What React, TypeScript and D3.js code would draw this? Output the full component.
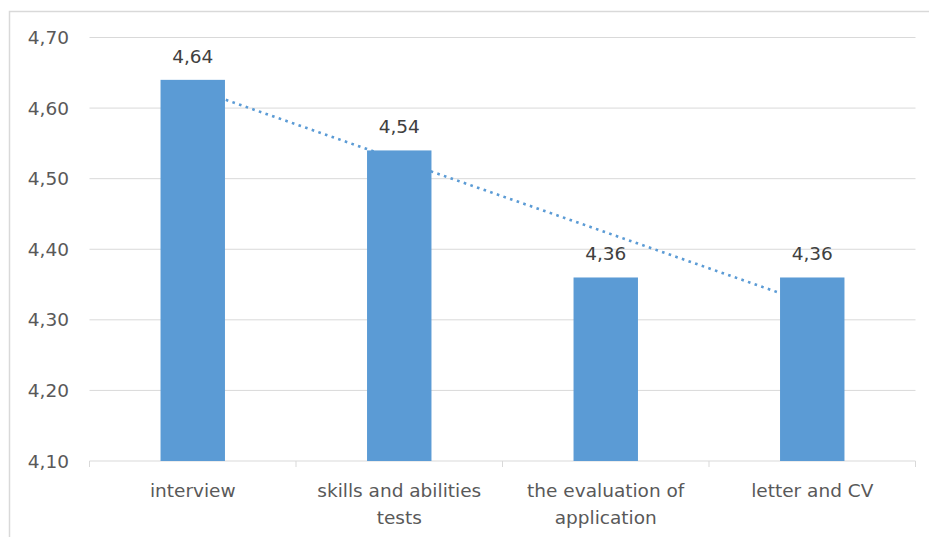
import React from "react";
import * as d3 from "d3";

const categories: string[][] = [
  ["interview"],
  ["skills and abilities", "tests"],
  ["the evaluation of", "application"],
  ["letter and CV"],
];
const values: number[] = [4.64, 4.54, 4.36, 4.36];
const yTicks: number[] = [4.1, 4.2, 4.3, 4.4, 4.5, 4.6, 4.7];

const W = 929;
const H = 537;
const margin = { left: 89.5, right: 13.5, top: 37.5, bottom: 76 };
const FONT = "'DejaVu Sans', sans-serif";
const BAR = "#5B9BD5";
const GRID = "#D9D9D9";

const fmt = (v: number) => v.toFixed(2).replace(".", ",");

export default function App() {
  const x0 = margin.left;
  const x1 = W - margin.right;
  const y0 = H - margin.bottom;
  const y1 = margin.top;

  const keys = categories.map((_, i) => String(i));
  const x = d3.scaleBand<string>().domain(keys).range([x0, x1]).paddingInner(0.688).paddingOuter(0.344);
  const step = x.step();
  const y = d3.scaleLinear().domain([4.1, 4.7]).range([y0, y1]);

  // Least-squares linear trend over the category index 1..n
  const n = values.length;
  const xs = values.map((_, i) => i + 1);
  const mx = d3.mean(xs)!;
  const my = d3.mean(values)!;
  const slope =
    d3.sum(xs.map((xi, i) => (xi - mx) * (values[i] - my))) / d3.sum(xs.map((xi) => (xi - mx) ** 2));
  const trendAt = (xi: number) => my + slope * (xi - mx);
  const trendPts: [number, number][] = [1, n].map((xi) => [
    x(String(xi - 1))! + x.bandwidth() / 2,
    y(trendAt(xi)),
  ]);
  const trendPath = d3.line()(trendPts)!;

  return (
    <svg
      width={W}
      height={H}
      style={{ position: "absolute", left: 0, top: 0, display: "block", background: "#fff" }}
    >
      {/* chart frame */}
      <path d={`M9.5,${H} V11.5 H${W}`} fill="none" stroke={GRID} strokeWidth={1.5} />

      {/* gridlines */}
      {yTicks.slice(1).map((t) => (
        <line key={t} x1={x0} x2={x1} y1={y(t)} y2={y(t)} stroke={GRID} strokeWidth={1} />
      ))}

      {/* category axis */}
      <line x1={x0} x2={x1} y1={y0} y2={y0} stroke={GRID} strokeWidth={1} />
      {d3.range(n + 1).map((i) => (
        <line key={i} x1={x0 + i * step} x2={x0 + i * step} y1={y0} y2={y0 + 6} stroke={GRID} strokeWidth={1} />
      ))}

      {/* y tick labels */}
      {yTicks.map((t) => (
        <text
          key={t}
          x={69}
          y={y(t)}
          dy="0.36em"
          textAnchor="end"
          fontFamily={FONT}
          fontSize={18.5}
          fill="#595959"
        >
          {fmt(t)}
        </text>
      ))}

      {/* trend line, behind bars */}
      <path
        d={trendPath}
        fill="none"
        stroke={BAR}
        strokeWidth={2.6}
        strokeDasharray="2.6 4.4"
      />

      {/* bars */}
      {values.map((v, i) => (
        <rect
          key={i}
          x={x(String(i))}
          y={y(v)}
          width={x.bandwidth()}
          height={y0 - y(v)}
          fill={BAR}
        />
      ))}

      {/* value labels */}
      {values.map((v, i) => (
        <text
          key={i}
          x={x(String(i))! + x.bandwidth() / 2}
          y={y(v) - 17}
          textAnchor="middle"
          fontFamily={FONT}
          fontSize={18.5}
          fill="#404040"
        >
          {fmt(v)}
        </text>
      ))}

      {/* category labels */}
      {categories.map((lines, i) => (
        <text
          key={i}
          x={x(String(i))! + x.bandwidth() / 2}
          y={497}
          textAnchor="middle"
          fontFamily={FONT}
          fontSize={18.5}
          fill="#595959"
        >
          {lines.map((l, j) => (
            <tspan key={j} x={x(String(i))! + x.bandwidth() / 2} dy={j === 0 ? 0 : 26.5}>
              {l}
            </tspan>
          ))}
        </text>
      ))}
    </svg>
  );
}
